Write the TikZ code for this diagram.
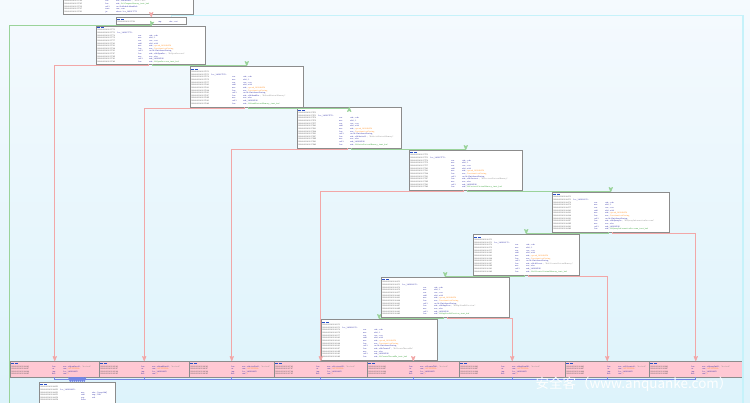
\documentclass[tikz,border=0pt]{standalone}
\usepackage{fontspec}
\usepackage{xcolor}
\usepackage{tikz}
\usetikzlibrary{arrows,shadows}
\newfontfamily\cjkfont{Noto Sans CJK SC}
\definecolor{bgtop}{HTML}{F5FAFE}
\definecolor{bgbot}{HTML}{DDF3FB}
\definecolor{blkline}{HTML}{8C8C8C}
\definecolor{pinkfill}{HTML}{FFC8D3}
\definecolor{addrc}{HTML}{505050}
\definecolor{opc}{HTML}{1E1EA0}
\definecolor{orc}{HTML}{FF8C1A}
\definecolor{cmc}{HTML}{8A8A8A}
\definecolor{grc}{HTML}{2E9E2E}
\definecolor{hdc}{HTML}{2850C8}
\definecolor{tedgec}{HTML}{9AD39A}
\definecolor{fedgec}{HTML}{F2A7A7}
\definecolor{jedgec}{HTML}{7386E6}
\definecolor{ledgec}{HTML}{C6F2FA}
\newcommand{\asmhd}{{\color{hdc}\rule{3pt}{1.1pt}\hspace{0.6pt}\rule{3pt}{1.1pt}}\par}
\newcommand{\asmad}[1]{{\color{addrc}#1}\par}
\newcommand{\asmlb}[2]{\makebox[20pt][l]{\color{addrc}#1}{\color{opc}#2}\par}
\newcommand{\asmln}[3]{\makebox[41pt][l]{\color{addrc}#1}\makebox[11pt][l]{\color{opc}#2}{\color{opc}#3}\par}
% one check block: address prefix, label, string label, string, buffer
\newcommand{\chkbody}[5]{%
  \asmhd
  \asmad{#170}%
  \asmlb{#170}{loc\_#2:}%
  \asmln{#174}{xor}{edx, edx}%
  \asmln{#176}{mov}{r8d, 1}%
  \asmln{#17C}{xor}{ecx, ecx}%
  \asmln{#180}{add}{r8d, r8d}%
  \asmln{#183}{mov}{rdx, {\color{orc}qword\_18002B0F8}}%
  \asmln{#18A}{lea}{rcx, {\color{orc}DestinationString}}%
  \asmln{#191}{call}{cs:RtlInitAnsiString}%
  \asmln{#197}{lea}{rdx, #3 {\color{cmc}; "#4"}}%
  \asmln{#19E}{mov}{rcx, rbx}%
  \asmln{#1A1}{call}{sub\_180016F40}%
  \asmln{#1A6}{lea}{rdx, {\color{grc}#5}}%
}
% one failure block: address prefix, string label, target
\newcommand{\failbody}[3]{%
  \asmhd
  \asmln{#1A0}{lea}{rcx, #2 {\color{cmc}; "hooked"}}%
  \asmln{#1A7}{or}{eax, {\color{orc}0FFFFFFFFh}}%
  \asmln{#1AA}{jmp}{loc\_#3}%
  \asmln{#1AF}{mov}{eax, {\color{orc}1}}%
}

\begin{document}
\begin{tikzpicture}[x=1pt,y=-1pt,>=stealth',
    asmbox/.style={draw=blkline,fill=white,line width=0.5pt,anchor=north west,
      inner xsep=1pt,inner ysep=0.8pt,
      font=\fontsize{2.1}{2.65}\selectfont\ttfamily,
      drop shadow={shadow xshift=0.8pt,shadow yshift=-0.8pt,fill=black!40,opacity=1}},
    blk/.code 2 args={\pgfmathsetmacro\blkw{#1-2}%
      \tikzset{asmbox,minimum width=#1pt,minimum height=#2pt,text width=\blkw pt}},
    failblk/.style 2 args={blk={#1}{#2},fill=pinkfill},
    tedge/.style={draw=tedgec,line width=0.8pt,->},
    fedge/.style={draw=fedgec,line width=0.8pt,->},
    jedge/.style={draw=jedgec,line width=0.8pt,->},
    ledge/.style={draw=ledgec,line width=1.2pt},
    wmark/.style={font=\cjkfont\fontsize{13.5}{14}\selectfont,text=white,opacity=0.95,inner sep=0pt}]

\useasboundingbox (0,0) rectangle (750,403);
\shade[top color=bgtop,bottom color=bgbot] (0,0) rectangle (750,403);

\coordinate (exitL) at (9,405);
\coordinate (exitR) at (743,405);
\coordinate (looptop) at (743,15.5);

\node[blk={130}{15},anchor=south west] (T) at (63,14.5) {%
  \asmln{0000000180017C48}{lea}{rcx, aNtdllDll {\color{cmc}; "ntdll.dll"}}%
  \asmln{0000000180017C4F}{lea}{rdx, {\color{grc}RtlCompareMemory\_inst\_buf}}%
  \asmln{0000000180017C56}{call}{cs:GetModuleHandleA}%
  \asmln{0000000180017C5C}{test}{eax, eax}%
  \asmln{0000000180017C60}{jz}{short loc\_180017C70}};
\node[blk={70}{7}] (S) at (116,17) {%
  \asmhd
  \asmln{0000000180017C62}{cmp}{ebx, esi}};

\node[blk={109}{37}] (A) at (96,26)
  {\chkbody{0000000180017C}{180017C70}{aNtOpenPro}{NtOpenProcess}{NtOpenProcess\_inst\_buf}};
\node[blk={113}{41}] (B) at (190,66)
  {\chkbody{0000000180017D}{180017D70}{aNtReadVir}{NtReadVirtualMemory}{NtReadVirtualMemory\_inst\_buf}};
\node[blk={104}{41}] (C) at (297,107)
  {\chkbody{0000000180017E}{180017E70}{aNtWriteVi}{NtWriteVirtualMemory}{NtWriteVirtualMemory\_inst\_buf}};
\node[blk={113}{40}] (D) at (409,150)
  {\chkbody{0000000180017F}{180017F70}{aNtProtect}{NtProtectVirtualMemory}{NtProtectVirtualMemory\_inst\_buf}};
\node[blk={117}{40}] (E) at (552,192)
  {\chkbody{00000001800180}{180018070}{aNtQueryIn}{NtQueryInformationProcess}{NtQueryInformationProcess\_inst\_buf}};
\node[blk={106}{41}] (F) at (473,234)
  {\chkbody{00000001800181}{180018170}{aNtAllocat}{NtAllocateVirtualMemory}{NtAllocateVirtualMemory\_inst\_buf}};
\node[blk={128}{40}] (G) at (381,277)
  {\chkbody{00000001800182}{180018270}{aNtMapView}{NtMapViewOfSection}{NtMapViewOfSection\_inst\_buf}};
\node[blk={116}{41}] (H) at (321,319)
  {\chkbody{00000001800183}{180018370}{aNtCreateT}{NtCreateThreadEx}{NtCreateThreadEx\_inst\_buf}};

\node[failblk={89}{16}] (P1) at (10,361) {\failbody{00000001800184}{aOpenProcH}{1800184F0}};
\node[failblk={90}{16}] (P2) at (99,361) {\failbody{00000001800185}{aReadVirtH}{1800184F0}};
\node[failblk={85}{16}] (P3) at (189,361) {\failbody{00000001800186}{aWriteVirH}{1800184F0}};
\node[failblk={93}{16}] (P4) at (274,361) {\failbody{00000001800187}{aProtectVH}{1800184F0}};
\node[failblk={92}{16}] (P5) at (367,361) {\failbody{00000001800188}{aCreateThH}{1800184F0}};
\node[failblk={106}{16}] (P6) at (459,361) {\failbody{00000001800189}{aMapViewOH}{1800184F0}};
\node[failblk={84}{16}] (P7) at (565,361) {\failbody{0000000180018A}{aAllocateH}{1800184F0}};
\node[failblk={93}{16}] (P8) at (649,361) {\failbody{0000000180018B}{aQueryInfH}{1800184F0}};

\node[blk={76}{20.5}] (X) at (39,382) {%
  \asmhd
  \asmad{00000001800184F0}%
  \asmlb{00000001800184F0}{loc\_1800184F0:}%
  \asmln{00000001800184F0}{mov}{rbx, [rsp+38h]}%
  \asmln{00000001800184F5}{add}{rsp, 20h}%
  \asmln{00000001800184F9}{pop}{rdi}%
  \asmln{00000001800184FA}{retn}{}};

% edges
\draw[fedge] (S.north |- T.south) -- (S.north);
\draw[tedge] (S.south) -- (A.north);
\draw[tedge,-] (S.south) -- ++(0,0.5) -| (exitL);
\draw[ledge] (exitR) -- (looptop) -| ([xshift=20pt]S.north);

\draw[fedge] ([xshift=-2pt]A.south) -- ++(0,1) -| (P1.north);
\draw[tedge] ([xshift=2pt]A.south) -- ++(0,1) -| (B.north);
\draw[fedge] ([xshift=-2pt]B.south) -- ++(0,1) -| (P2.north);
\draw[tedge] ([xshift=2pt]B.south) -- ++(0,1) -| (C.north);
\draw[fedge] ([xshift=-2pt]C.south) -- ++(0,1) -| (P3.north);
\draw[tedge] ([xshift=2pt]C.south) -- ++(0,1) -| (D.north);
\draw[fedge] ([xshift=-2pt]D.south) -- ++(0,1) -| (P4.north);
\draw[tedge] ([xshift=2pt]D.south) -- ++(0,1) -| (E.north);
\draw[fedge] ([xshift=2pt]E.south) -- ++(0,1) -| (P8.north);
\draw[tedge] ([xshift=-2pt]E.south) -- ++(0,1) -| (F.north);
\draw[fedge] ([xshift=2pt]F.south) -- ++(0,1) -| (P7.north);
\draw[tedge] ([xshift=-2pt]F.south) -- ++(0,1) -| (G.north);
\draw[fedge] ([xshift=2pt]G.south) -- ++(0,1) -| (P6.north);
\draw[tedge] ([xshift=-2pt]G.south) -- ++(0,1) -| (H.north);
\draw[fedge] (P5.north |- H.south) -- (P5.north);

\draw[jedge] (P1.south) -- ++(0,2) -| ([xshift=-7pt]X.north);
\draw[jedge] (P2.south) -- ++(0,2) -| ([xshift=-5pt]X.north);
\draw[jedge] (P3.south) -- ++(0,2) -| ([xshift=-3pt]X.north);
\draw[jedge] (P4.south) -- ++(0,2) -| ([xshift=-1pt]X.north);
\draw[jedge] (P5.south) -- ++(0,2) -| ([xshift=1pt]X.north);
\draw[jedge] (P6.south) -- ++(0,2) -| ([xshift=3pt]X.north);
\draw[jedge] (P7.south) -- ++(0,2) -| ([xshift=5pt]X.north);
\draw[jedge] (P8.south) -- ++(0,2) -| ([xshift=7pt]X.north);

\node[wmark] (wm) at (634,384) {安全客（www.anquanke.com）};
\end{tikzpicture}
\end{document}
